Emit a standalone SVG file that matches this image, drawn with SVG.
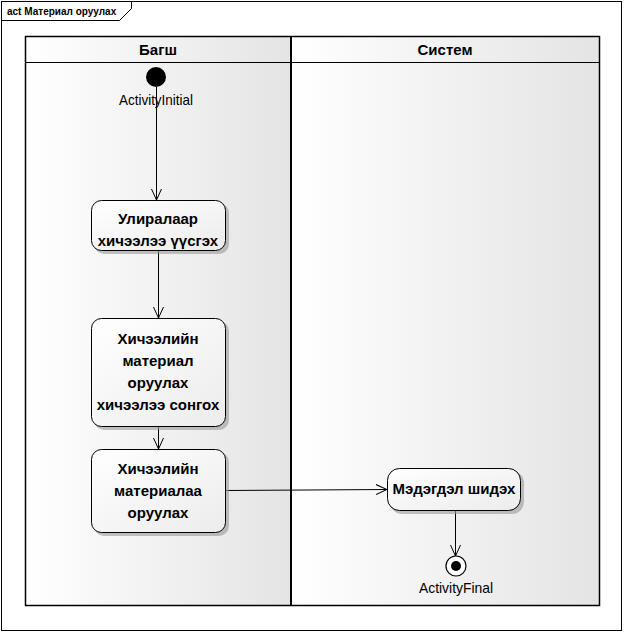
<svg xmlns="http://www.w3.org/2000/svg" width="625" height="633" viewBox="0 0 625 633">
<style>
.frame{fill:none;stroke:#000;stroke-width:1}
.node{fill:url(#ng);stroke:#000;stroke-width:1}
.shadow{fill:#9a9a9a;opacity:0.6}
.t{font-family:"Liberation Sans",Arial,sans-serif;font-size:15px;font-weight:bold;fill:#000;text-anchor:middle}
.h{font-family:"Liberation Sans",Arial,sans-serif;font-size:15px;font-weight:bold;fill:#000;text-anchor:middle}
.lbl{font-family:"Liberation Sans",Arial,sans-serif;font-size:15px;fill:#000;text-anchor:middle}
.edge{fill:none;stroke:#000;stroke-width:1}
</style>
<defs>
<linearGradient id="lg" x1="0" y1="0" x2="1" y2="0">
<stop offset="0" stop-color="#ffffff"/>
<stop offset="1" stop-color="#e4e4e4"/>
</linearGradient>
<linearGradient id="ng" x1="0" y1="0" x2="1" y2="1">
<stop offset="0" stop-color="#ffffff"/>
<stop offset="1" stop-color="#ececec"/>
</linearGradient>
<marker id="arr" markerWidth="12" markerHeight="12" refX="11" refY="6" orient="auto" markerUnits="userSpaceOnUse">
<path d="M0,1 L11,6 L0,11" fill="none" stroke="#000" stroke-width="1"/>
</marker>
</defs>
<rect x="0" y="0" width="625" height="633" fill="#fff"/>
<g id="frame">
<rect class="frame" x="1.5" y="1.5" width="620" height="629"/>
<path class="frame" d="M1.5,20.5 L119.5,20.5 L131.5,8.5 L131.5,1.5"/>
<text x="7" y="15" style="font-family:'Liberation Sans',Arial,sans-serif;font-size:10px;font-weight:bold">act Материал оруулах</text>
</g>
<g id="lanes">
<rect x="25.5" y="36.5" width="266" height="569" fill="url(#lg)" stroke="none"/>
<rect x="291.5" y="36.5" width="308" height="569" fill="url(#lg)" stroke="none"/>
<rect x="25.5" y="36.5" width="574" height="569" fill="none" stroke="#000" stroke-width="1.5"/>
<line x1="25.5" y1="62.5" x2="599.5" y2="62.5" stroke="#000" stroke-width="1"/>
<line x1="291" y1="36" x2="291" y2="606" stroke="#000" stroke-width="2"/>
<text class="h" x="158" y="55">Багш</text>
<text class="h" x="445" y="55">Систем</text>
</g>
<g id="connectors">
<line class="edge" x1="156.5" y1="87" x2="156.5" y2="200" marker-end="url(#arr)"/>
<line class="edge" x1="158.5" y1="251" x2="158.5" y2="318" marker-end="url(#arr)"/>
<line class="edge" x1="158.5" y1="427" x2="158.5" y2="449" marker-end="url(#arr)"/>
<line class="edge" x1="226" y1="490.5" x2="387" y2="489.5" marker-end="url(#arr)"/>
<line class="edge" x1="455.5" y1="511" x2="455.5" y2="556" marker-end="url(#arr)"/>
</g>
<g id="initial">
<circle cx="156" cy="77" r="10" fill="#000"/>
<text class="lbl" x="156" y="105" textLength="74" lengthAdjust="spacingAndGlyphs">ActivityInitial</text>
</g>
<g id="n1">
<rect class="shadow" x="94" y="203" width="135" height="51" rx="10"/>
<rect class="node" x="91.5" y="200.5" width="134" height="50" rx="10"/>
<text class="t" x="158" y="224">Улиралаар</text>
<text class="t" x="158" y="246">хичээлээ үүсгэх</text>
</g>
<g id="n2">
<rect class="shadow" x="94" y="321" width="135" height="109" rx="10"/>
<rect class="node" x="91.5" y="318.5" width="134" height="108" rx="10"/>
<text class="t" x="158" y="344">Хичээлийн</text>
<text class="t" x="158" y="366">материал</text>
<text class="t" x="158" y="388">оруулах</text>
<text class="t" x="158" y="410">хичээлээ сонгох</text>
</g>
<g id="n3">
<rect class="shadow" x="94" y="452" width="135" height="84" rx="10"/>
<rect class="node" x="91.5" y="449.5" width="134" height="83" rx="10"/>
<text class="t" x="158" y="474">Хичээлийн</text>
<text class="t" x="158" y="496">материалаа</text>
<text class="t" x="158" y="518">оруулах</text>
</g>
<g id="n4">
<rect class="shadow" x="390" y="471" width="134" height="43" rx="12"/>
<rect class="node" x="387.5" y="468.5" width="133" height="42" rx="12"/>
<text class="t" x="454" y="494">Мэдэгдэл шидэх</text>
</g>
<g id="final">
<circle cx="456" cy="566" r="10" fill="#fff" stroke="#000" stroke-width="1.2"/>
<circle cx="456" cy="566" r="5" fill="#000"/>
<text class="lbl" x="456" y="593" textLength="74" lengthAdjust="spacingAndGlyphs">ActivityFinal</text>
</g>
</svg>
